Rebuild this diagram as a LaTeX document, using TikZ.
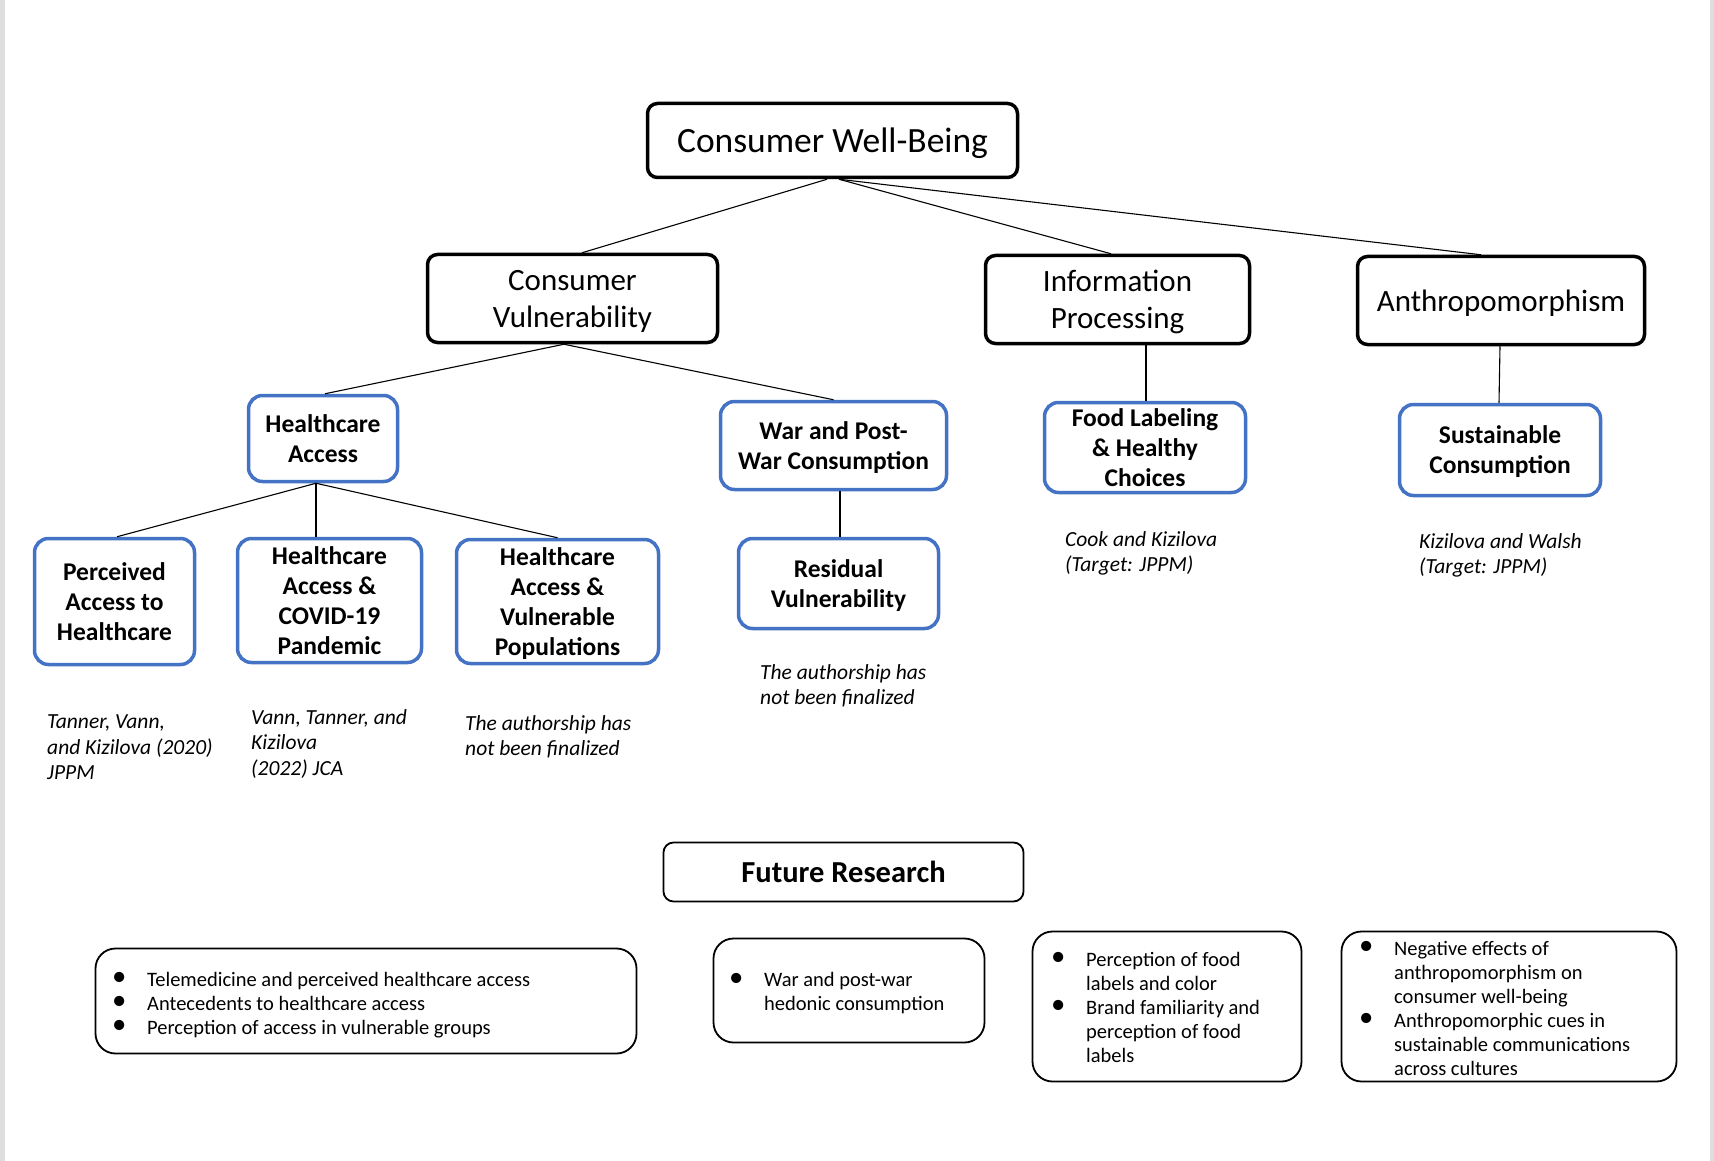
\documentclass[tikz,border=0pt]{standalone}
\usepackage{fontspec}
\usepackage{graphicx}
\setmainfont{Carlito}
\definecolor{hblue}{HTML}{4472C4}
\definecolor{edgegray}{HTML}{DEDEDE}
\newcommand\bl{\makebox[35pt][l]{\smash{\raisebox{0.5pt}{\scalebox{1.4}{\textbullet}}}}}
\newcommand\ind{\hspace*{35pt}}
\begin{document}
\begin{tikzpicture}[x=1pt,y=-1pt,
  topbox/.style={draw=black, line width=3.5pt, rounded corners=10pt, fill=white, align=center, inner sep=0pt, text depth=0pt},
  bluebox/.style={draw=hblue, line width=3.5pt, rounded corners=14pt, fill=white, align=center, inner sep=0pt, text depth=0pt, font=\fontsize{25.5}{30}\selectfont\bfseries},
  thinbox/.style={draw=black, line width=1.8pt, rounded corners=20pt, fill=white, inner sep=0pt},
  note/.style={anchor=west, align=left, inner sep=0pt, font=\fontsize{21.5}{25.5}\selectfont\itshape},
  bultext/.style={anchor=west, align=left, inner sep=0pt, font=\fontsize{20.5}{24}\selectfont},
  conn/.style={draw=black, line width=1.1pt}]
\useasboundingbox (0,0) rectangle (1714,1161);
\fill[white] (0,0) rectangle (1714,1161);
\draw[edgegray, line width=5pt] (2.5,0) -- (2.5,1161);
\draw[edgegray, line width=4pt] (1712,0) -- (1712,1161);

% level 0
\node[topbox, minimum width=370, minimum height=74, font=\fontsize{35.5}{40}\selectfont] (cwb) at (832.5,140.5) {Consumer Well-Being};
% level 1
\node[topbox, minimum width=290, minimum height=88, font=\fontsize{31}{37}\selectfont] (cv) at (572.5,298.5) {Consumer\\Vulnerability};
\node[topbox, minimum width=264, minimum height=88, font=\fontsize{31}{37}\selectfont] (ip) at (1117.5,299.5) {Information\\Processing};
\node[topbox, minimum width=287, minimum height=88, font=\fontsize{31}{37}\selectfont] (an) at (1501,300.5) {Anthropomorphism};
% level 2
\node[bluebox, minimum width=149, minimum height=86] (ha) at (323,438.5) {Healthcare\\Access};
\node[bluebox, minimum width=226, minimum height=88] (wpw) at (833.5,445.5) {War and Post-\\War Consumption};
\node[bluebox, minimum width=201, minimum height=90] (fl) at (1145,447.5) {Food Labeling\\\& Healthy\\Choices};
\node[bluebox, minimum width=201, minimum height=91] (sc) at (1500,450) {Sustainable\\Consumption};
% level 3
\node[bluebox, minimum width=200, minimum height=90] (rv) at (838.5,583.5) {Residual\\Vulnerability};
\node[bluebox, minimum width=160, minimum height=126] (pah) at (114.5,601.5) {Perceived\\Access to\\Healthcare};
\node[bluebox, minimum width=184, minimum height=124] (cov) at (329.5,600.5) {Healthcare\\Access \&\\COVID-19\\Pandemic};
\node[bluebox, minimum width=202, minimum height=124] (vp) at (557.5,601.5) {Healthcare\\Access \&\\Vulnerable\\Populations};

% connectors
\draw[conn] ([xshift=-5.5pt]cwb.south) -- ([xshift=9.5pt]cv.north);
\draw[conn] ([xshift=6.5pt]cwb.south) -- ([xshift=-6.5pt]ip.north);
\draw[conn] ([xshift=6.5pt]cwb.south) -- ([xshift=-20pt]an.north);
\draw[conn] ([xshift=-8.5pt]cv.south) -- ([xshift=2pt]ha.north);
\draw[conn] ([xshift=-8.5pt]cv.south) -- (wpw.north);
\draw[conn] ([xshift=28.5pt]ip.south) -- ([xshift=1pt]fl.north);
\draw[conn] ([xshift=-1pt]an.south) -- ([xshift=-1pt]sc.north);
\draw[conn] ([xshift=6.5pt]wpw.south) -- ([xshift=1.5pt]rv.north);
\draw[conn] ([xshift=-7pt]ha.south) -- ([xshift=2.5pt]pah.north);
\draw[conn] ([xshift=-7pt]ha.south) -- ([xshift=-13.5pt]cov.north);
\draw[conn] ([xshift=-7pt]ha.south) -- (vp.north);

% notes
\node[note] (n1) at (47,747.5) {Tanner, Vann,\\and Kizilova (2020)\\JPPM};
\node[note] (n2) at (251,744) {Vann, Tanner, and\\Kizilova\\(2022) JCA};
\node[note] (n3) at (465,737) {The authorship has\\not been finalized};
\node[note] (n4) at (760,686) {The authorship has\\not been finalized};
\node[note] (n5) at (1065,553.5) {Cook and Kizilova\\(Target: JPPM)};
\node[note] (n6) at (1419,555.5) {Kizilova and Walsh\\(Target: JPPM)};

% future research
\node[thinbox, rounded corners=10pt, minimum width=360, minimum height=59, font=\fontsize{30.5}{34}\selectfont\bfseries] (fr) at (843.5,872) {Future Research};
\node[thinbox, minimum width=541, minimum height=105] (b1) at (366,1001) {};
\node[thinbox, minimum width=271, minimum height=104] (b2) at (849,990.5) {};
\node[thinbox, minimum width=269, minimum height=150] (b3) at (1167,1006.5) {};
\node[thinbox, minimum width=335, minimum height=150] (b4) at (1509,1006.5) {};
\node[bultext] (t1) at (112,1005) {\bl Telemedicine and perceived healthcare access\\\bl Antecedents to healthcare access\\\bl Perception of access in vulnerable groups};
\node[bultext] (t2) at (729,993.5) {\bl War and post-war\\\ind hedonic consumption};
\node[bultext] (t3) at (1051,1007) {\bl Perception of food\\\ind labels and color\\\bl Brand familiarity and\\\ind perception of food\\\ind labels};
\node[bultext] (t4) at (1359,1008) {\bl Negative effects of\\\ind anthropomorphism on\\\ind consumer well-being\\\bl Anthropomorphic cues in\\\ind sustainable communications\\\ind across cultures};
\end{tikzpicture}
\end{document}
